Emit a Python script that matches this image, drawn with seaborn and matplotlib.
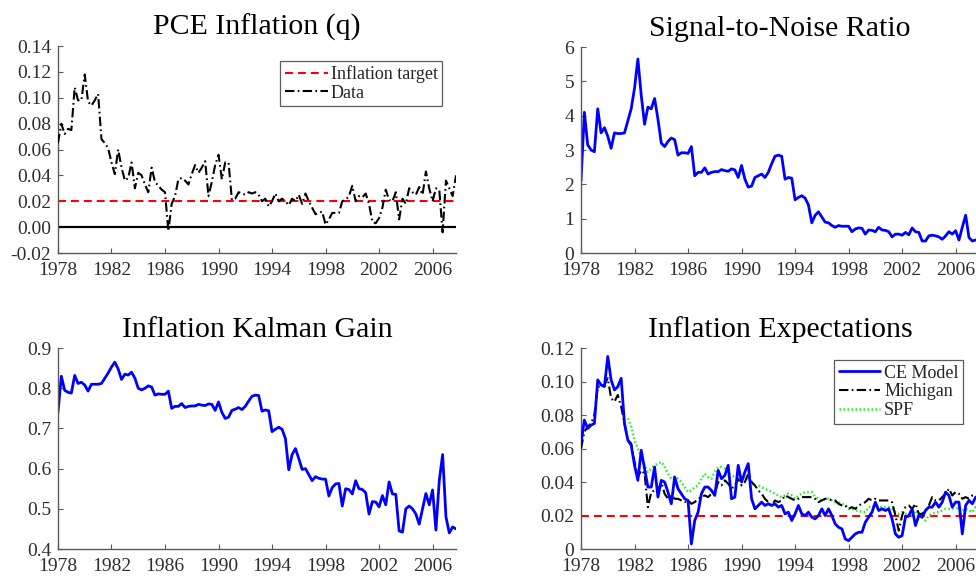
import numpy as np
import pandas as pd
import matplotlib
matplotlib.use("Agg")
import matplotlib.pyplot as plt
import seaborn as sns

# quarterly dates 1978Q1 - 2007Q4
quarters = np.arange(1978, 2008, 0.25)
inflation_target = 0.02

pce_inflation = [
    0.065, 0.080, 0.072, 0.076,
    0.075, 0.108, 0.098, 0.098,
    0.118, 0.097, 0.094, 0.098,
    0.103, 0.068, 0.065, 0.061,
    0.050, 0.041, 0.060, 0.046,
    0.036, 0.038, 0.050, 0.030,
    0.042, 0.040, 0.033, 0.027,
    0.046, 0.035, 0.032, 0.029,
    0.027, -0.003, 0.018, 0.024,
    0.037, 0.038, 0.036, 0.033,
    0.041, 0.048, 0.042, 0.046,
    0.051, 0.024, 0.035, 0.048,
    0.056, 0.037, 0.050, 0.050,
    0.021, 0.022, 0.027, 0.026,
    0.025, 0.027, 0.026, 0.027,
    0.025, 0.020, 0.022, 0.016,
    0.020, 0.026, 0.020, 0.022,
    0.020, 0.017, 0.022, 0.020,
    0.025, 0.018, 0.026, 0.020,
    0.015, 0.010, 0.011, 0.012,
    0.002, 0.006, 0.011, 0.011,
    0.011, 0.020, 0.021, 0.024,
    0.032, 0.020, 0.024, 0.023,
    0.026, 0.018, 0.004, 0.003,
    0.007, 0.015, 0.029, 0.021,
    0.020, 0.027, 0.006, 0.022,
    0.018, 0.030, 0.027, 0.025,
    0.031, 0.025, 0.043, 0.030,
    0.020, 0.030, 0.029, -0.004,
    0.036, 0.030, 0.024, 0.040,
]

signal_noise = [
    2.10, 4.10, 3.15, 3.00,
    2.95, 4.20, 3.50, 3.65,
    3.40, 3.05, 3.50, 3.48,
    3.48, 3.50, 3.85, 4.20,
    4.80, 5.65, 4.60, 3.75,
    4.25, 4.20, 4.50, 3.90,
    3.20, 3.10, 3.25, 3.35,
    3.30, 2.85, 2.92, 2.92,
    2.90, 3.10, 2.25, 2.35,
    2.35, 2.48, 2.30, 2.35,
    2.37, 2.37, 2.43, 2.40,
    2.38, 2.45, 2.42, 2.20,
    2.55, 2.15, 1.92, 1.95,
    2.20, 2.25, 2.30, 2.20,
    2.35, 2.60, 2.82, 2.85,
    2.82, 2.15, 2.20, 2.18,
    1.55, 1.62, 1.67, 1.60,
    1.40, 0.88, 1.10, 1.20,
    1.05, 0.90, 0.88, 0.80,
    0.75, 0.80, 0.78, 0.78,
    0.78, 0.62, 0.70, 0.73,
    0.72, 0.55, 0.67, 0.66,
    0.62, 0.75, 0.67, 0.66,
    0.62, 0.47, 0.55, 0.55,
    0.52, 0.60, 0.53, 0.73,
    0.62, 0.60, 0.35, 0.35,
    0.50, 0.52, 0.50, 0.47,
    0.40, 0.50, 0.62, 0.55,
    0.65, 0.38, 0.75, 1.10,
    0.45, 0.35, 0.38, 0.38,
]

kalman_gain = [
    0.740, 0.830, 0.795, 0.790,
    0.788, 0.832, 0.812, 0.815,
    0.808, 0.793, 0.810, 0.810,
    0.810, 0.812, 0.825, 0.838,
    0.853, 0.865, 0.848, 0.822,
    0.835, 0.833, 0.840, 0.825,
    0.800, 0.796, 0.800, 0.806,
    0.803, 0.783, 0.786, 0.785,
    0.785, 0.793, 0.750, 0.755,
    0.755, 0.762, 0.752, 0.755,
    0.756, 0.756, 0.760, 0.758,
    0.757, 0.761, 0.760, 0.745,
    0.766, 0.740, 0.725, 0.728,
    0.745, 0.748, 0.752, 0.747,
    0.755, 0.768, 0.780, 0.783,
    0.782, 0.743, 0.746, 0.744,
    0.692, 0.698, 0.703, 0.698,
    0.675, 0.597, 0.635, 0.650,
    0.625, 0.598, 0.600, 0.585,
    0.570, 0.580, 0.576, 0.574,
    0.574, 0.532, 0.553, 0.562,
    0.563, 0.507, 0.550, 0.548,
    0.537, 0.570, 0.550, 0.548,
    0.540, 0.487, 0.518, 0.517,
    0.505, 0.533, 0.510, 0.567,
    0.537, 0.536, 0.445, 0.442,
    0.500, 0.507, 0.500, 0.487,
    0.462, 0.500, 0.538, 0.510,
    0.547, 0.447, 0.570, 0.635,
    0.480, 0.440, 0.455, 0.450,
]

ce_model = [
    0.063, 0.077, 0.072, 0.074,
    0.075, 0.101, 0.098, 0.097,
    0.115, 0.101, 0.095, 0.097,
    0.102, 0.075, 0.065, 0.062,
    0.050, 0.041, 0.059, 0.048,
    0.037, 0.037, 0.049, 0.031,
    0.041, 0.040, 0.034, 0.027,
    0.043, 0.036, 0.033, 0.030,
    0.029, 0.003, 0.017, 0.022,
    0.033, 0.037, 0.037, 0.035,
    0.032, 0.047, 0.042, 0.044,
    0.050, 0.030, 0.031, 0.050,
    0.040, 0.046, 0.051, 0.030,
    0.024, 0.026, 0.028, 0.026,
    0.027, 0.026, 0.027, 0.025,
    0.026, 0.021, 0.022, 0.017,
    0.021, 0.026, 0.021, 0.020,
    0.022, 0.019, 0.018, 0.020,
    0.024, 0.020, 0.024, 0.020,
    0.015, 0.013, 0.012, 0.006,
    0.005, 0.007, 0.009, 0.010,
    0.010, 0.016, 0.019, 0.022,
    0.028, 0.023, 0.024, 0.023,
    0.024, 0.018, 0.009, 0.007,
    0.008, 0.019, 0.020, 0.024,
    0.014, 0.020, 0.019, 0.023,
    0.025, 0.025, 0.028, 0.025,
    0.028, 0.034, 0.032, 0.025,
    0.028, 0.028, 0.009, 0.026,
    0.029, 0.027, 0.031, 0.030,
]

michigan = [
    0.060, 0.070, 0.073, 0.075,
    0.080, 0.097, 0.097, 0.098,
    0.102, 0.090, 0.088, 0.092,
    0.085, 0.075, 0.065, 0.063,
    0.052, 0.043, 0.047, 0.045,
    0.025, 0.034, 0.035, 0.035,
    0.040, 0.033, 0.030, 0.032,
    0.030, 0.030, 0.029, 0.028,
    0.029, 0.027, 0.028, 0.030,
    0.031, 0.032, 0.031, 0.033,
    0.033, 0.040, 0.038, 0.041,
    0.039, 0.036, 0.038, 0.042,
    0.038, 0.040, 0.045, 0.040,
    0.038, 0.035, 0.033, 0.030,
    0.028, 0.026, 0.029, 0.028,
    0.029, 0.032, 0.031, 0.030,
    0.029, 0.030, 0.031, 0.031,
    0.031, 0.031, 0.030, 0.028,
    0.029, 0.030, 0.030, 0.029,
    0.029, 0.027, 0.026, 0.026,
    0.024, 0.025, 0.024, 0.026,
    0.027, 0.028, 0.030, 0.029,
    0.030, 0.029, 0.029, 0.029,
    0.029, 0.028, 0.020, 0.011,
    0.020, 0.025, 0.026, 0.024,
    0.027, 0.021, 0.021, 0.023,
    0.026, 0.031, 0.029, 0.029,
    0.031, 0.033, 0.036, 0.032,
    0.034, 0.033, 0.030, 0.031,
    0.030, 0.032, 0.031, 0.030,
]

# SPF starts 1981Q3
spf = [
    0.078, 0.073,
    0.065, 0.060, 0.055, 0.050,
    0.046, 0.048, 0.050, 0.051,
    0.052, 0.049, 0.045, 0.042,
    0.043, 0.042, 0.040, 0.037,
    0.034, 0.035, 0.037, 0.038,
    0.042, 0.045, 0.043, 0.042,
    0.046, 0.049, 0.049, 0.048,
    0.045, 0.044, 0.043, 0.043,
    0.042, 0.043, 0.042, 0.040,
    0.037, 0.038, 0.037, 0.036,
    0.035, 0.034, 0.033, 0.032,
    0.031, 0.032, 0.033, 0.032,
    0.030, 0.032, 0.033, 0.034,
    0.034, 0.034, 0.031, 0.030,
    0.029, 0.030, 0.030, 0.029,
    0.028, 0.028, 0.027, 0.026,
    0.024, 0.024, 0.023, 0.023,
    0.022, 0.022, 0.025, 0.025,
    0.026, 0.025, 0.025, 0.025,
    0.025, 0.024, 0.022, 0.021,
    0.022, 0.021, 0.019, 0.020,
    0.023, 0.021, 0.019, 0.017,
    0.020, 0.021, 0.022, 0.022,
    0.023, 0.024, 0.024, 0.024,
    0.024, 0.025, 0.023, 0.024,
    0.023, 0.022, 0.025, 0.025,
]

year_ticks = [1978, 1982, 1986, 1990, 1994, 1998, 2002, 2006]

sns.set_style("ticks")
plt.rcParams["font.family"] = ["Liberation Serif", "DejaVu Serif"]

DASH = (0, (3.8, 2.4))
DASHDOT = (0, (4.5, 1.6, 0.8, 1.6))
AX_GRAY = "#5a5a5a"
TXT_GRAY = "#2e2e2e"

fig = plt.figure(figsize=(9.76, 5.79), dpi=100)
ax1 = fig.add_axes([0.0594, 0.563, 0.4078, 0.3575])
ax2 = fig.add_axes([0.5953, 0.563, 0.4078, 0.3558])
ax3 = fig.add_axes([0.0594, 0.0518, 0.4078, 0.347])
ax4 = fig.add_axes([0.5953, 0.0518, 0.4078, 0.347])


def style_axis(ax, title):
    ax.set_title(title, fontsize=21.5, color="black", pad=8)
    ax.set_xlim(1978, 2007.75)
    ax.set_xticks(year_ticks)
    ax.set_xticklabels([str(y) for y in year_ticks])
    sns.despine(ax=ax)
    for side in ["left", "bottom"]:
        ax.spines[side].set_color(AX_GRAY)
        ax.spines[side].set_linewidth(1.0)
    ax.tick_params(direction="in", length=3.5, width=0.8, color=AX_GRAY,
                   labelsize=14, labelcolor=TXT_GRAY)
    ax.tick_params(axis="x", pad=6.5)
    ax.tick_params(axis="y", pad=5)
    ax.set_xlabel("")
    ax.set_ylabel("")


# PCE inflation
ax1.axhline(0, color="black", linewidth=1.6, zorder=1)
ax1.axhline(inflation_target, color="red", linewidth=1.5, linestyle=DASH,
            label="Inflation target", zorder=2)
sns.lineplot(x=quarters, y=pce_inflation, ax=ax1, color="black",
             linewidth=1.5, linestyle=DASHDOT, label="Data", zorder=3)
ax1.set_ylim(-0.02, 0.14)
pce_ticks = [-0.02, 0.0, 0.02, 0.04, 0.06, 0.08, 0.10, 0.12, 0.14]
ax1.set_yticks(pce_ticks)
ax1.set_yticklabels([f"{t:.2f}" for t in pce_ticks])
style_axis(ax1, "PCE Inflation (q)")
leg = ax1.legend(loc="upper right", bbox_to_anchor=(0.965, 0.93), fontsize=13,
                 frameon=True, fancybox=False, handlelength=2.4, handletextpad=0.15,
                 borderpad=0.25, labelspacing=0.1, borderaxespad=0)
leg.get_frame().set_edgecolor("#333333")
leg.get_frame().set_linewidth(0.9)

# signal to noise
sns.lineplot(x=quarters, y=signal_noise, ax=ax2, color="blue", linewidth=2)
ax2.set_ylim(0, 6)
ax2.set_yticks([0, 1, 2, 3, 4, 5, 6])
ax2.set_yticklabels(["0", "1", "2", "3", "4", "5", "6"])
style_axis(ax2, "Signal-to-Noise Ratio")

# Kalman gain
sns.lineplot(x=quarters, y=kalman_gain, ax=ax3, color="blue", linewidth=2)
ax3.set_ylim(0.4, 0.9)
kg_ticks = [0.4, 0.5, 0.6, 0.7, 0.8, 0.9]
ax3.set_yticks(kg_ticks)
ax3.set_yticklabels([f"{t:.1f}" for t in kg_ticks])
style_axis(ax3, "Inflation Kalman Gain")

# expectations
ax4.axhline(inflation_target, color="red", linewidth=1.5, linestyle=DASH, zorder=1)
sns.lineplot(x=quarters, y=ce_model, ax=ax4, color="blue", linewidth=2,
             label="CE Model", zorder=4)
sns.lineplot(x=quarters, y=michigan, ax=ax4, color="black", linewidth=1.5,
             linestyle=DASHDOT, label="Michigan", zorder=3)
sns.lineplot(x=quarters[len(quarters) - len(spf):], y=spf, ax=ax4, color="#22ee22",
             linewidth=1.8, linestyle=(0, (0.6, 1.0)), label="SPF", zorder=2)
ax4.set_ylim(0, 0.12)
ax4.set_yticks([0, 0.02, 0.04, 0.06, 0.08, 0.10, 0.12])
ax4.set_yticklabels(["0", "0.02", "0.04", "0.06", "0.08", "0.10", "0.12"])
style_axis(ax4, "Inflation Expectations")
leg4 = ax4.legend(loc="upper right", bbox_to_anchor=(0.96, 0.94), fontsize=13,
                  frameon=True, fancybox=False, handlelength=2.3, handletextpad=0.2,
                  borderpad=0.25, labelspacing=0.1, borderaxespad=0)
leg4.get_frame().set_edgecolor("#333333")
leg4.get_frame().set_linewidth(0.9)

fig.savefig("out.png", dpi=100)
